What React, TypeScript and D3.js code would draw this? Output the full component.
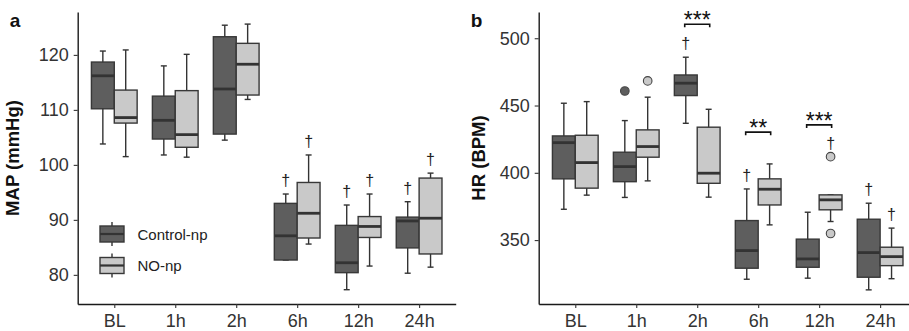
import * as React from 'react';
import * as d3 from 'd3';

const timepoints = ["BL", "1h", "2h", "6h", "12h", "24h"];
const groups = ["Control-np", "NO-np"];
const groupFill = ["#5e5e5e", "#c9c9c9"];

// box stats per timepoint: [min, q1, median, q3, max]
const mapControl = [
    [103.8, 110.2, 116.2, 118.7, 120.7],
    [101.8, 104.7, 108.1, 112.5, 118.0],
    [104.5, 105.6, 113.8, 123.3, 125.4],
    [82.7, 82.7, 87.1, 93.0, 94.7],
    [77.3, 80.4, 82.2, 89.0, 92.7],
    [80.3, 84.9, 89.8, 90.5, 93.3]
];
const mapNO = [
    [101.5, 107.6, 108.6, 113.6, 120.9],
    [101.4, 103.2, 105.5, 113.5, 120.1],
    [111.9, 112.7, 118.3, 122.1, 125.6],
    [85.6, 86.7, 91.2, 96.8, 101.8],
    [81.6, 86.8, 88.8, 90.6, 94.7],
    [81.4, 83.8, 90.3, 97.6, 98.5]
];
const mapTicks = [80, 90, 100, 110, 120];
// [timepoint index, group index]
const mapDaggers = [[3, 0], [3, 1], [4, 0], [4, 1], [5, 0], [5, 1]];

const hrControl = [
    [372.9, 395.5, 422.4, 427.4, 451.7],
    [381.7, 393.4, 404.6, 415.3, 438.8],
    [436.8, 457.4, 466.6, 472.7, 485.9],
    [320.9, 329.1, 342.2, 364.5, 388.0],
    [321.7, 329.8, 336.0, 350.7, 370.7],
    [313.0, 322.4, 340.7, 365.5, 377.4]
];
const hrNO = [
    [383.4, 388.6, 407.6, 427.9, 452.9],
    [394.0, 411.6, 419.5, 431.9, 456.2],
    [381.9, 392.2, 399.7, 433.9, 447.2],
    [361.3, 376.1, 387.8, 395.5, 406.6],
    [363.8, 372.5, 379.9, 383.6, 383.6],
    [321.3, 331.0, 337.7, 344.7, 358.9]
];
const hrControlOutliers = [[], [460.8], [], [], [], []];
const hrNOOutliers = [[], [468.3], [], [], [412.0, 354.9], []];
const hrTicks = [350, 400, 450, 500];
const hrDaggers = [[2, 0], [3, 0], [4, 1], [5, 0], [5, 1]];
const hrSigTimes = [2, 3, 4];
const hrSigLevels = [510.4, 430.2, 435.6];
const hrSigLabels = ["***", "**", "***"];

const FONT = "'Liberation Sans', Arial, sans-serif";
const TOP = 12;
const BOTTOM = 304;
const PANEL_W = 378;

function drawPanel(svg, cfg) {
    let x = d3.scalePoint().domain(timepoints).range([cfg.left, cfg.left + PANEL_W]).padding(0.6);
    let y = d3.scaleLinear().domain(cfg.domain).range([BOTTOM, TOP]);
    let bw = x.step() * 0.375;
    let cap = 6;

    let yAxis = svg.append("g")
        .attr("transform", `translate(${cfg.left},0)`)
        .call(d3.axisLeft(y).tickValues(cfg.ticks).tickSize(4).tickSizeOuter(0).tickPadding(5));
    let xAxis = svg.append("g")
        .attr("transform", `translate(0,${BOTTOM})`)
        .call(d3.axisBottom(x).tickSize(4).tickSizeOuter(0).tickPadding(6));
    [yAxis, xAxis].forEach(a => {
        a.select(".domain").attr("stroke", "#1a1a1a").attr("stroke-width", 1.4);
        a.selectAll(".tick line").attr("stroke", "#333").attr("stroke-width", 1.1);
        a.selectAll("text").attr("font-family", FONT).attr("font-size", 18).attr("fill", "#333");
    });

    svg.append("text")
        .attr("transform", `translate(${cfg.left - cfg.titleOffset},${(TOP + BOTTOM) / 2}) rotate(-90)`)
        .attr("text-anchor", "middle")
        .attr("font-family", FONT).attr("font-weight", "bold").attr("font-size", 18.5)
        .attr("fill", "#111")
        .text(cfg.title);
    svg.append("text")
        .attr("x", cfg.left - 68).attr("y", 27)
        .attr("font-family", FONT).attr("font-weight", "bold").attr("font-size", 19)
        .attr("fill", "#111")
        .text(cfg.letter);

    let cxOf = (ti, gi) => x(timepoints[ti]) + (gi === 0 ? -bw / 2 : bw / 2);

    cfg.series.forEach((stats, gi) => {
        let g = svg.append("g");
        stats.forEach((s, ti) => {
            let cx = cxOf(ti, gi);
            g.append("line").attr("x1", cx).attr("x2", cx).attr("y1", y(s[0])).attr("y2", y(s[4]))
                .attr("stroke", "#333").attr("stroke-width", 1.4);
            [s[0], s[4]].forEach(v => {
                g.append("line").attr("x1", cx - cap / 2).attr("x2", cx + cap / 2)
                    .attr("y1", y(v)).attr("y2", y(v))
                    .attr("stroke", "#333").attr("stroke-width", 1.4);
            });
            g.append("rect")
                .attr("x", cx - bw / 2).attr("width", bw)
                .attr("y", y(s[3])).attr("height", Math.max(0, y(s[1]) - y(s[3])))
                .attr("fill", groupFill[gi]).attr("stroke", "#383838").attr("stroke-width", 1.4);
            g.append("line").attr("x1", cx - bw / 2).attr("x2", cx + bw / 2)
                .attr("y1", y(s[2])).attr("y2", y(s[2]))
                .attr("stroke", "#333").attr("stroke-width", 2.8);
            (cfg.outliers[gi][ti] || []).forEach(o => {
                g.append("circle").attr("cx", cx).attr("cy", y(o)).attr("r", 4.3)
                    .attr("fill", groupFill[gi]).attr("stroke", "#444").attr("stroke-width", 1.1);
            });
        });
    });

    cfg.daggers.forEach(([ti, gi]) => {
        let s = cfg.series[gi][ti];
        let top = d3.max([s[4], ...(cfg.outliers[gi][ti] || [])]);
        svg.append("text")
            .attr("x", cxOf(ti, gi)).attr("y", y(top) - 8)
            .attr("text-anchor", "middle")
            .attr("font-family", FONT).attr("font-size", 16).attr("fill", "#222")
            .text("\u2020");
    });

    (cfg.sigTimes || []).forEach((ti, i) => {
        let cx = x(timepoints[ti]);
        let by = y(cfg.sigLevels[i]);
        svg.append("path")
            .attr("d", `M${cx - 12.5},${by + 3}V${by}H${cx + 12.5}V${by + 3}`)
            .attr("fill", "none").attr("stroke", "#111").attr("stroke-width", 1.6);
        svg.append("text")
            .attr("x", cx).attr("y", by + 4)
            .attr("text-anchor", "middle")
            .attr("font-family", FONT).attr("font-size", 23).attr("fill", "#111")
            .text(cfg.sigLabels[i]);
    });

    if (cfg.legend) {
        groups.forEach((name, gi) => {
            let ky = 226 + gi * 31.5;
            let kx = 100, kw = 24, kh = 16;
            svg.append("line").attr("x1", kx + kw / 2).attr("x2", kx + kw / 2)
                .attr("y1", ky - 4).attr("y2", ky + kh + 4)
                .attr("stroke", "#333").attr("stroke-width", 1.4);
            svg.append("rect").attr("x", kx).attr("y", ky).attr("width", kw).attr("height", kh)
                .attr("fill", groupFill[gi]).attr("stroke", "#383838").attr("stroke-width", 1.4);
            svg.append("line").attr("x1", kx).attr("x2", kx + kw)
                .attr("y1", ky + kh / 2).attr("y2", ky + kh / 2)
                .attr("stroke", "#333").attr("stroke-width", 2.2);
            svg.append("text")
                .attr("x", 137.5).attr("y", ky + kh / 2 + 5.5)
                .attr("font-family", FONT).attr("font-size", 15).attr("fill", "#222")
                .text(name);
        });
    }
}

export default function App() {
    const ref = React.useRef(null);

    React.useEffect(() => {
        let svg = d3.select(ref.current);
        svg.selectAll("*").remove();
        drawPanel(svg, {
            left: 77.7,
            domain: [74.7, 127.8],
            ticks: mapTicks,
            title: "MAP (mmHg)",
            titleOffset: 59,
            letter: "a",
            series: [mapControl, mapNO],
            outliers: [[], []],
            daggers: mapDaggers,
            legend: true
        });
        drawPanel(svg, {
            left: 538.7,
            domain: [302.5, 519.5],
            ticks: hrTicks,
            title: "HR (BPM)",
            titleOffset: 54,
            letter: "b",
            series: [hrControl, hrNO],
            outliers: [hrControlOutliers, hrNOOutliers],
            daggers: hrDaggers,
            sigTimes: hrSigTimes,
            sigLevels: hrSigLevels,
            sigLabels: hrSigLabels
        });
    }, []);

    return (
        <div style={{ position: "absolute", left: 0, top: 0, width: 909, height: 331, background: "#fff" }}>
            <svg ref={ref} width={909} height={331} style={{ display: "block" }} />
        </div>
    );
}
